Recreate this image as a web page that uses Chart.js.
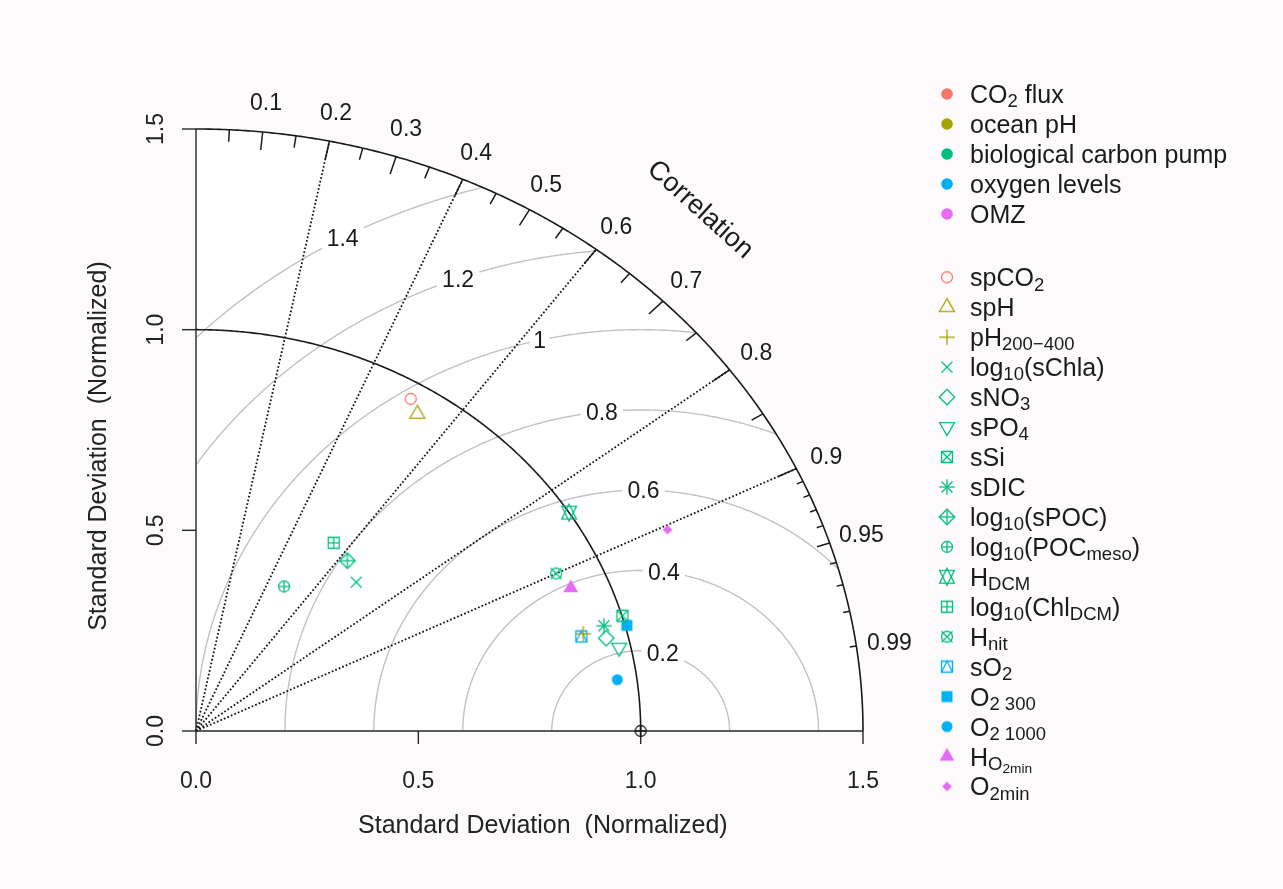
<!DOCTYPE html>
<html>
<head>
<meta charset="utf-8">
<script src="https://cdn.jsdelivr.net/npm/chart.js@4.4.1/dist/chart.umd.min.js"></script>
<style>
  html,body{margin:0;padding:0;background:#fcfafb;}
  canvas{display:block;}
</style>
</head>
<body>
<canvas id="taylor" width="1283" height="889"></canvas>
<script>
// --- Data ---
const groups = ['CO_{2} flux', 'ocean pH', 'biological carbon pump', 'oxygen levels', 'OMZ'];
const groupColors = ['#F8766D', '#A3A500', '#00BF7D', '#00B0F6', '#E76BF3'];

const variables = ['spCO_{2}', 'spH', 'pH_{200\u2212400}', 'log_{10}(sChla)', 'sNO_{3}', 'sPO_{4}', 'sSi', 'sDIC',
  'log_{10}(sPOC)', 'log_{10}(POC_{meso})', 'H_{DCM}', 'log_{10}(Chl_{DCM})', 'H_{nit}', 'sO_{2}',
  'O_{2 300}', 'O_{2 1000}', 'H_{O_{2min}}', 'O_{2min}'];
const varGroup = [0, 1, 1, 2, 2, 2, 2, 2, 2, 2, 2, 2, 2, 3, 3, 3, 4, 4];
const varPch = [1, 2, 3, 4, 5, 6, 7, 8, 9, 10, 11, 12, 13, 14, 15, 16, 17, 18];
const stdDev = [0.958, 0.934, 0.904, 0.517, 0.951, 0.974, 1.001, 0.954, 0.544, 0.411, 1.000, 0.562, 0.900, 0.898, 1.004, 0.956, 0.915, 1.173];
const correlation = [0.504, 0.533, 0.9635, 0.697, 0.970, 0.977, 0.958, 0.9615, 0.626, 0.482, 0.839, 0.551, 0.900, 0.965, 0.965, 0.991, 0.921, 0.904];
const refSd = 1.0;

const sdTicks = [0, 0.5, 1, 1.5];
const sdMax = 1.5;
const corLabels = [0.1, 0.2, 0.3, 0.4, 0.5, 0.6, 0.7, 0.8, 0.9, 0.95, 0.99];
const corBigTicks = [0.1, 0.2, 0.3, 0.4, 0.5, 0.6, 0.7, 0.8, 0.9];
const corMedTicks = [0.05, 0.15, 0.25, 0.35, 0.45, 0.55, 0.65, 0.75, 0.85, 0.95];
const corSmallTicks = [0.91, 0.92, 0.93, 0.94, 0.96, 0.97, 0.98, 0.99];
const corLines = [0.2, 0.4, 0.6, 0.8, 0.9];
const rmsLevels = [0.2, 0.4, 0.6, 0.8, 1, 1.2, 1.4];

const FONT = '"Liberation Sans", Arial, sans-serif';

// --- R style plotting symbols as small canvases ---
function pchSymbol(pch, color){
  const R = 5.5, size = 26, m = size / 2;
  const cv = document.createElement('canvas');
  cv.width = cv.height = size;
  const g = cv.getContext('2d');
  g.strokeStyle = color; g.fillStyle = color; g.lineWidth = 1.3;
  const T0 = 1.5551 * R, T1 = 1.3468 * R, T2 = 0.7776 * R, s2 = Math.SQRT2 * R;
  const poly = (pts, fill, open) => {
    g.beginPath();
    pts.forEach(([a, b], i) => i ? g.lineTo(m + a, m - b) : g.moveTo(m + a, m - b));
    if(!open) g.closePath();
    fill ? g.fill() : g.stroke();
  };
  const seg = (a, b, c, d) => { g.beginPath(); g.moveTo(m + a, m - b); g.lineTo(m + c, m - d); g.stroke(); };
  const circ = (r, fill) => { g.beginPath(); g.arc(m, m, r, 0, 2 * Math.PI); fill ? g.fill() : g.stroke(); };
  const plus = h => { seg(-h, 0, h, 0); seg(0, -h, 0, h); };
  const cross = h => { seg(-h, -h, h, h); seg(-h, h, h, -h); };
  const square = (h, fill) => poly([[-h, -h], [h, -h], [h, h], [-h, h]], fill);
  const diamond = (h, fill) => poly([[-h, 0], [0, h], [h, 0], [0, -h]], fill);
  switch(pch){
    case 1: circ(R); break;
    case 2: poly([[0, T0], [T1, -T2], [-T1, -T2]]); break;
    case 3: plus(s2); break;
    case 4: cross(R); break;
    case 5: diamond(s2); break;
    case 6: poly([[0, -T0], [T1, T2], [-T1, T2]]); break;
    case 7: square(R); cross(R); break;
    case 8: plus(s2); cross(R); break;
    case 9: diamond(s2); plus(s2); break;
    case 10: circ(R); plus(R); break;
    case 11: {
      const yc = 0.5 * (T2 + T0);
      poly([[0, -T0], [T1, yc], [-T1, yc]]);
      poly([[0, T0], [T1, -yc], [-T1, -yc]]);
      break;
    }
    case 12: square(R); plus(R); break;
    case 13: circ(R); cross(R); break;
    case 14: square(R); poly([[-R, -R], [0, R], [R, -R]], false, true); break;
    case 15: square(R, true); break;
    case 16: circ(R, true); break;
    case 17: poly([[0, T0], [T1, -T2], [-T1, -T2]], true); break;
    case 18: diamond(R * 0.88, true); break;
  }
  return cv;
}

// --- text helpers (subscripts written as _{...}) ---
function parseRich(s){
  const out = []; let lvl = 0, buf = '';
  const flush = () => { if(buf){ out.push({t: buf, lvl}); buf = ''; } };
  for(let i = 0; i < s.length; i++){
    const ch = s[i];
    if(ch === '_' && s[i + 1] === '{'){ flush(); lvl++; i++; }
    else if(ch === '}' && lvl > 0){ flush(); lvl--; }
    else buf += ch;
  }
  flush();
  return out;
}
function drawRich(ctx, s, x, baseY, size){
  let cx = x;
  ctx.textAlign = 'left'; ctx.textBaseline = 'alphabetic';
  for(const seg of parseRich(s)){
    const fs = size * Math.pow(0.74, seg.lvl);
    let drop = 0;
    for(let k = 0; k < seg.lvl; k++) drop += size * Math.pow(0.74, k) * 0.17;
    ctx.font = fs + 'px ' + FONT;
    ctx.fillText(seg.t, cx, baseY + drop);
    cx += ctx.measureText(seg.t).width;
  }
}
function label(ctx, s, x, y, size, rot){
  ctx.save();
  ctx.translate(x, y);
  if(rot) ctx.rotate(rot);
  ctx.font = size + 'px ' + FONT;
  ctx.textAlign = 'center'; ctx.textBaseline = 'alphabetic';
  ctx.fillText(s, 0, size * 0.358);
  ctx.restore();
}

// --- Taylor diagram frame ---
const taylorFrame = {
  id: 'taylorFrame',
  beforeDraw(chart){
    const {ctx, scales: {x, y}} = chart;
    const P = (a, b) => [x.getPixelForValue(a), y.getPixelForValue(b)];
    ctx.save();
    ctx.fillStyle = '#fcfafb';
    ctx.fillRect(0, 0, chart.width, chart.height);
    // white quarter disk
    ctx.beginPath();
    ctx.moveTo(...P(0, 0));
    for(let t = 0; t <= 90; t += 0.5){
      const a = t * Math.PI / 180;
      ctx.lineTo(...P(sdMax * Math.cos(a), sdMax * Math.sin(a)));
    }
    ctx.closePath();
    ctx.fillStyle = '#ffffff';
    ctx.fill();
    ctx.restore();
  },
  beforeDatasetsDraw(chart){
    const {ctx, scales: {x, y}} = chart;
    const P = (a, b) => [x.getPixelForValue(a), y.getPixelForValue(b)];
    const polar = (r, c) => P(r * c, r * Math.sqrt(1 - c * c));
    ctx.save();

    // centred RMS difference arcs
    ctx.strokeStyle = '#c2c2c2'; ctx.lineWidth = 1.4;
    rmsLevels.forEach(gm => {
      ctx.beginPath();
      let started = false;
      for(let a = 0; a <= Math.PI + 1e-9; a += 0.005){
        const px = refSd + gm * Math.cos(a), py = gm * Math.sin(a);
        if(px < 0 || px * px + py * py > sdMax * sdMax){ if(started) break; continue; }
        const [u, v] = P(px, py);
        started ? ctx.lineTo(u, v) : ctx.moveTo(u, v);
        started = true;
      }
      ctx.stroke();
    });

    // dotted correlation rays
    ctx.strokeStyle = '#111'; ctx.lineWidth = 1.8; ctx.setLineDash([1.7, 2.1]);
    corLines.forEach(c => {
      ctx.beginPath(); ctx.moveTo(...P(0, 0)); ctx.lineTo(...polar(sdMax, c)); ctx.stroke();
    });
    ctx.setLineDash([]);

    // reference SD arc and outer arc
    const arc = (r, lw, col) => {
      ctx.strokeStyle = col; ctx.lineWidth = lw; ctx.beginPath();
      for(let t = 0; t <= 90; t += 0.25){
        const a = t * Math.PI / 180;
        const [u, v] = P(r * Math.cos(a), r * Math.sin(a));
        t ? ctx.lineTo(u, v) : ctx.moveTo(u, v);
      }
      ctx.stroke();
    };
    arc(refSd, 1.6, '#1a1a1a');
    arc(sdMax, 1.6, '#1a1a1a');

    // correlation ticks
    ctx.strokeStyle = '#1a1a1a'; ctx.lineWidth = 1.5;
    const ticks = (list, k) => list.forEach(c => {
      ctx.beginPath(); ctx.moveTo(...polar(sdMax, c)); ctx.lineTo(...polar(sdMax * k, c)); ctx.stroke();
    });
    ticks(corBigTicks, 0.97); ticks(corMedTicks, 0.98); ticks(corSmallTicks, 0.99);

    // axes
    ctx.strokeStyle = '#262626'; ctx.lineWidth = 1.4;
    ctx.beginPath(); ctx.moveTo(...P(0, 0)); ctx.lineTo(...P(sdMax, 0)); ctx.stroke();
    ctx.beginPath(); ctx.moveTo(...P(0, 0)); ctx.lineTo(...P(0, sdMax)); ctx.stroke();
    ctx.fillStyle = '#222222';
    sdTicks.forEach(t => {
      const [u, v] = P(t, 0);
      ctx.beginPath(); ctx.moveTo(u, v); ctx.lineTo(u, v + 13); ctx.stroke();
      label(ctx, t.toFixed(1), u, v + 49, 23);
      const [u2, v2] = P(0, t);
      ctx.beginPath(); ctx.moveTo(u2, v2); ctx.lineTo(u2 - 14, v2); ctx.stroke();
      label(ctx, t.toFixed(1), u2 - 41, v2, 23, -Math.PI / 2);
    });
    label(ctx, 'Standard Deviation  (Normalized)', x.getPixelForValue(0.78), y.getPixelForValue(0) + 93, 25);
    label(ctx, 'Standard Deviation  (Normalized)', x.getPixelForValue(0) - 99, y.getPixelForValue(0.71), 25, -Math.PI / 2);

    // correlation labels
    ctx.fillStyle = '#1a1a1a';
    corLabels.forEach(c => {
      const [u, v] = polar(sdMax * 1.05, c);
      label(ctx, String(c), u, v, 23);
    });
    const [cu, cv] = P(1.137, 1.303);
    const ang = Math.atan2(y.getPixelForValue(0) - y.getPixelForValue(1), x.getPixelForValue(1) - x.getPixelForValue(0));
    label(ctx, 'Correlation', cu, cv, 27, ang);

    // RMS labels in white boxes (plotrix label positions)
    const n = rmsLevels.length;
    rmsLevels.forEach((gm, i) => {
      const idx = Math.floor(45 + i * (70 - 45) / (n - 1));
      const a = (idx - 1) * 0.03;
      const [u, v] = P(refSd + gm * Math.cos(a), gm * Math.sin(a));
      const s = String(gm);
      ctx.font = '23px ' + FONT;
      const w = ctx.measureText(s).width * 1.2 + 4;
      ctx.fillStyle = '#ffffff';
      ctx.fillRect(u - w / 2, v - 11, w, 22);
      ctx.fillStyle = '#1a1a1a';
      label(ctx, s, u, v, 23);
    });
    ctx.restore();
  },
  afterDraw(chart){
    const {ctx} = chart;
    ctx.save();
    groups.forEach((gname, i) => {
      const yy = 94 + i * 30;
      ctx.fillStyle = groupColors[i];
      ctx.beginPath(); ctx.arc(947, yy, 5.8, 0, 2 * Math.PI); ctx.fill();
      ctx.fillStyle = '#1a1a1a';
      drawRich(ctx, gname, 970, yy + 9, 25);
    });
    variables.forEach((vname, i) => {
      const yy = 277.3 + i * 29.95;
      ctx.drawImage(pchSymbol(varPch[i], groupColors[varGroup[i]]), 947 - 13, yy - 13);
      ctx.fillStyle = '#1a1a1a';
      drawRich(ctx, vname, 970, yy + 9, 25);
    });
    ctx.restore();
  }
};

// --- Chart ---
const datasets = variables.map((name, i) => {
  const sd = stdDev[i], r = correlation[i];
  return {
    label: name.replace(/[_{}]/g, ''),
    data: [{x: sd * r, y: sd * Math.sqrt(1 - r * r)}],
    pointStyle: pchSymbol(varPch[i], groupColors[varGroup[i]]),
    pointRadius: 6,
    clip: false
  };
});
datasets.push({
  label: 'reference',
  data: [{x: refSd, y: 0}],
  pointStyle: pchSymbol(10, '#1a1a1a'),
  pointRadius: 6,
  clip: false
});

new Chart(document.getElementById('taylor'), {
  type: 'scatter',
  data: {datasets},
  options: {
    responsive: false,
    animation: false,
    devicePixelRatio: 1,
    layout: {padding: {left: 196, right: 420, top: 129, bottom: 158}},
    scales: {
      x: {type: 'linear', min: 0, max: sdMax, display: false},
      y: {type: 'linear', min: 0, max: sdMax, display: false}
    },
    plugins: {legend: {display: false}, tooltip: {enabled: false}}
  },
  plugins: [taylorFrame]
});
</script>
</body>
</html>
